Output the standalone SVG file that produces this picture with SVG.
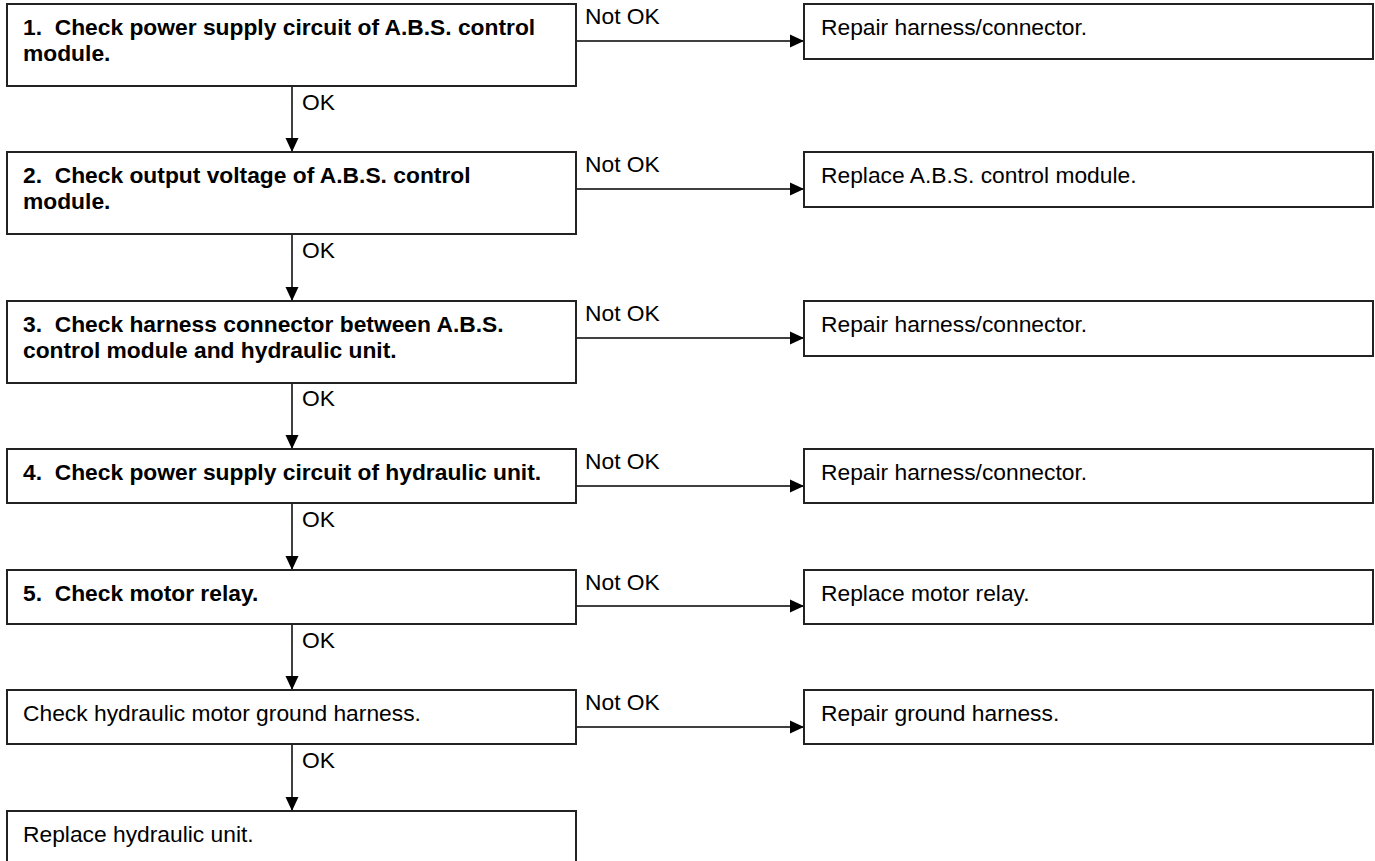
<svg xmlns="http://www.w3.org/2000/svg" width="1375" height="861" viewBox="0 0 1375 861">
<defs>
<style>
text{font-family:"Liberation Sans",Arial,Helvetica,sans-serif;font-size:22.8px;fill:#000;white-space:pre}
.b{font-weight:bold}
.box{fill:#fff;stroke:#222;stroke-width:2}
.ln{fill:none;stroke:#000;stroke-width:1.5}
</style>
<marker id="ah" viewBox="0 0 14 14" refX="14" refY="7" markerWidth="14" markerHeight="14" markerUnits="userSpaceOnUse" orient="auto">
<path d="M0,0.5 L14,7 L0,13.5 Z" fill="#000"/>
</marker>
</defs>
<rect width="1375" height="861" fill="#fff"/>
<g id="connectors">
<line class="ln" x1="292" y1="86" x2="292" y2="152" marker-end="url(#ah)"/>
<line class="ln" x1="292" y1="234" x2="292" y2="301" marker-end="url(#ah)"/>
<line class="ln" x1="292" y1="383" x2="292" y2="449" marker-end="url(#ah)"/>
<line class="ln" x1="292" y1="503" x2="292" y2="570" marker-end="url(#ah)"/>
<line class="ln" x1="292" y1="624" x2="292" y2="690" marker-end="url(#ah)"/>
<line class="ln" x1="292" y1="744" x2="292" y2="811" marker-end="url(#ah)"/>
<text x="302" y="110">OK</text>
<text x="302" y="258">OK</text>
<text x="302" y="406">OK</text>
<text x="302" y="527">OK</text>
<text x="302" y="648">OK</text>
<text x="302" y="768">OK</text>
<line class="ln" x1="576" y1="41" x2="804" y2="41" marker-end="url(#ah)"/>
<line class="ln" x1="576" y1="189" x2="804" y2="189" marker-end="url(#ah)"/>
<line class="ln" x1="576" y1="338" x2="804" y2="338" marker-end="url(#ah)"/>
<line class="ln" x1="576" y1="486" x2="804" y2="486" marker-end="url(#ah)"/>
<line class="ln" x1="576" y1="606" x2="804" y2="606" marker-end="url(#ah)"/>
<line class="ln" x1="576" y1="727" x2="804" y2="727" marker-end="url(#ah)"/>
<text x="585" y="24">Not OK</text>
<text x="585" y="172">Not OK</text>
<text x="585" y="321">Not OK</text>
<text x="585" y="469">Not OK</text>
<text x="585" y="590">Not OK</text>
<text x="585" y="710">Not OK</text>
</g>
<g id="step1">
<rect class="box" x="7" y="4" width="569" height="82"/>
<text class="b" x="23" y="35">1.  Check power supply circuit of A.B.S. control</text>
<text class="b" x="23" y="61">module.</text>
</g>
<g id="fix1">
<rect class="box" x="804" y="4" width="569" height="55"/>
<text x="821" y="35">Repair harness/connector.</text>
</g>
<g id="step2">
<rect class="box" x="7" y="152" width="569" height="82"/>
<text class="b" x="23" y="183">2.  Check output voltage of A.B.S. control</text>
<text class="b" x="23" y="209">module.</text>
</g>
<g id="fix2">
<rect class="box" x="804" y="152" width="569" height="55"/>
<text x="821" y="183">Replace A.B.S. control module.</text>
</g>
<g id="step3">
<rect class="box" x="7" y="301" width="569" height="82"/>
<text class="b" x="23" y="332">3.  Check harness connector between A.B.S.</text>
<text class="b" x="23" y="358">control module and hydraulic unit.</text>
</g>
<g id="fix3">
<rect class="box" x="804" y="301" width="569" height="55"/>
<text x="821" y="332">Repair harness/connector.</text>
</g>
<g id="step4">
<rect class="box" x="7" y="449" width="569" height="54"/>
<text class="b" x="23" y="480">4.  Check power supply circuit of hydraulic unit.</text>
</g>
<g id="fix4">
<rect class="box" x="804" y="449" width="569" height="54"/>
<text x="821" y="480">Repair harness/connector.</text>
</g>
<g id="step5">
<rect class="box" x="7" y="570" width="569" height="54"/>
<text class="b" x="23" y="601">5.  Check motor relay.</text>
</g>
<g id="fix5">
<rect class="box" x="804" y="570" width="569" height="54"/>
<text x="821" y="601">Replace motor relay.</text>
</g>
<g id="step6">
<rect class="box" x="7" y="690" width="569" height="54"/>
<text x="23" y="721">Check hydraulic motor ground harness.</text>
</g>
<g id="fix6">
<rect class="box" x="804" y="690" width="569" height="54"/>
<text x="821" y="721">Repair ground harness.</text>
</g>
<g id="step7">
<rect class="box" x="7" y="811" width="569" height="60"/>
<text x="23" y="842">Replace hydraulic unit.</text>
</g>
</svg>
